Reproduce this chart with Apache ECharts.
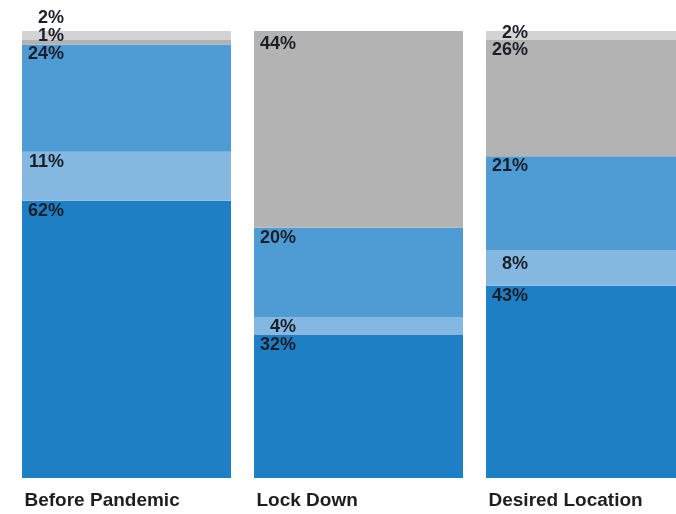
<!DOCTYPE html>
<html>
<head>
<meta charset="utf-8">
<script src="https://cdn.jsdelivr.net/npm/echarts@6/dist/echarts.min.js"></script>
<style>
  html, body { margin: 0; padding: 0; background: #ffffff; }
  #chart { width: 676px; height: 514px; }
</style>
</head>
<body>
<div id="chart"></div>
<script>
// Share of respondents by place of work, per period (percent, stacked bottom to top)
const categories = ['Before Pandemic', 'Lock Down', 'Desired Location'];
const seriesNames = ['Segment A', 'Segment B', 'Segment C', 'Segment D', 'Segment E'];
const segA = [62, 32, 43];
const segB = [11, 4, 8];
const segC = [24, 20, 21];
const segD = [1, 44, 26];
const segE = [2, 0, 2];

const colors = ['#1f7fc5', '#84b8e0', '#4f9bd4', '#b3b3b3', '#d3d3d3'];
// Vertical nudges for labels on thin top strips so they do not collide
const labelNudge = [
  [0, 0, 0],
  [0, 0, 4],
  [0, 0, 0],
  [-14, 3, 0],
  [-23, 0, -8]
];

const valueSets = [segA, segB, segC, segD, segE];

const series = valueSets.map((vals, si) => ({
  name: seriesNames[si],
  type: 'bar',
  stack: 'total',
  barWidth: 209,
  itemStyle: { color: colors[si] },
  emphasis: { disabled: true },
  data: vals.map((v, ci) => ({
    value: v,
    label: {
      show: v > 0,
      position: [42, 1 + labelNudge[si][ci]],
      align: 'right',
      verticalAlign: 'top'
    }
  })),
  label: {
    formatter: p => p.value + '%',
    color: '#1b1f2a',
    fontFamily: 'Liberation Sans',
    fontWeight: 'bold',
    fontSize: 18
  }
}));

const chart = echarts.init(document.getElementById('chart'), null, { renderer: 'canvas' });
chart.setOption({
  animation: false,
  backgroundColor: '#ffffff',
  // the third bar runs past the right edge of the canvas
  grid: {
    left: 10.5, width: 696, top: 31, bottom: 36,
    containLabel: false,
    outerBoundsMode: 'none'
  },
  xAxis: {
    type: 'category',
    data: categories,
    axisLine: { show: false },
    axisTick: { show: false },
    axisLabel: {
      interval: 0,
      align: 'left',
      margin: 13,
      padding: [0, 0, 0, -102],
      color: '#1e1e1e',
      fontFamily: 'Liberation Sans',
      fontWeight: 'bold',
      fontSize: 19
    }
  },
  yAxis: {
    type: 'value',
    min: 0,
    max: 100,
    show: false,
    splitLine: { show: false }
  },
  series: series
});
</script>
</body>
</html>
